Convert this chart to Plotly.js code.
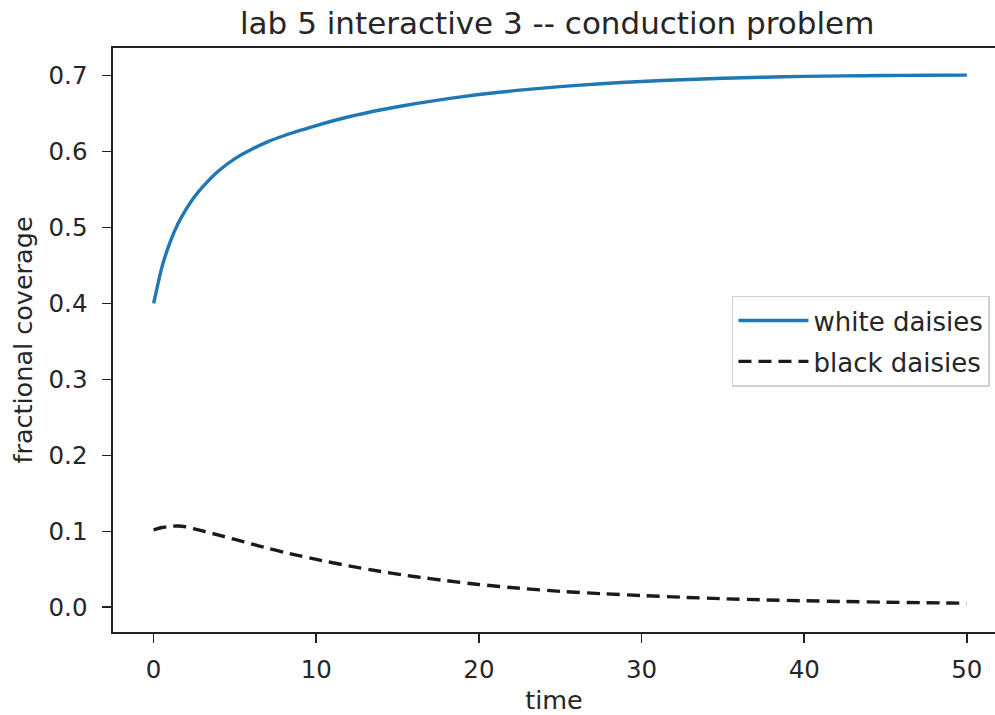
<!DOCTYPE html>
<html>
<head>
<meta charset="utf-8">
<script src="https://cdn.plot.ly/plotly-3.0.1.min.js"></script>
<style>html,body{margin:0;padding:0;background:#fff;}#chart{width:995px;height:715px;}</style>
</head>
<body>
<div id="chart"></div>
<script>
const chartTitle = "lab 5 interactive 3 -- conduction problem";
const xLabel = "time";
const yLabel = "fractional coverage";
const seriesNames = ["white daisies", "black daisies"];

const time = [0, 0.5, 1, 1.5, 2, 2.5, 3, 4, 5, 6, 7, 8, 9, 10, 12, 14, 16, 18, 20, 22.5, 25, 27.5, 30, 32.5, 35, 37.5, 40, 42.5, 45, 47.5, 50];
const whiteDaisies = [0.400, 0.447, 0.480, 0.505, 0.524, 0.540, 0.553, 0.5745, 0.5905, 0.6025, 0.6125, 0.6205, 0.6275, 0.634, 0.6455, 0.6548, 0.6625, 0.669, 0.6748, 0.6805, 0.6852, 0.689, 0.692, 0.6943, 0.6962, 0.6976, 0.6986, 0.6993, 0.6998, 0.7001, 0.7003];
const blackDaisies = [0.102, 0.105, 0.1065, 0.107, 0.1058, 0.1032, 0.1005, 0.095, 0.0893, 0.0835, 0.0778, 0.0725, 0.0676, 0.063, 0.0545, 0.047, 0.0405, 0.035, 0.030, 0.025, 0.021, 0.018, 0.0155, 0.0132, 0.0113, 0.0098, 0.0086, 0.0076, 0.0067, 0.006, 0.0053];

const xTicks = [0, 10, 20, 30, 40, 50];
const yTicks = [0.0, 0.1, 0.2, 0.3, 0.4, 0.5, 0.6, 0.7];
const yTickText = ["0.0", "0.1", "0.2", "0.3", "0.4", "0.5", "0.6", "0.7"];

const font = "DejaVu Sans, sans-serif";
const textColor = "#262626";

const traces = [
  {x: time, y: whiteDaisies, name: seriesNames[0], legendgroup: "w", type: "scatter", mode: "lines",
   line: {color: "#1f77b4", width: 3.4, shape: "spline", smoothing: 0.5}},
  {x: time, y: blackDaisies, name: seriesNames[1], legendgroup: "b", type: "scatter", mode: "lines",
   line: {color: "#1a1a1a", width: 3.4, dash: "13px,7px", shape: "spline", smoothing: 0.5}}
];

const axisCommon = {
  showgrid: false, zeroline: false, showline: true, linecolor: "#222", linewidth: 1.6,
  ticks: "outside", ticklen: 9, tickwidth: 1.6, tickcolor: "#222",
  tickfont: {family: font, size: 24.5, color: textColor}
};

const layout = {
  width: 995, height: 715,
  margin: {l: 113, r: 0, t: 48, b: 83, pad: 0},
  paper_bgcolor: "#fff", plot_bgcolor: "#fff",
  title: {text: chartTitle, font: {family: font, size: 31, color: textColor},
          xref: "container", x: 0.56, xanchor: "center", yref: "container", y: 0.968, yanchor: "middle"},
  xaxis: Object.assign({}, axisCommon, {
    range: [-2.5, 51.73], tickvals: xTicks, ticklabelstandoff: 6, mirror: true,
    title: {text: xLabel, font: {family: font, size: 25.5, color: textColor}, standoff: 10}
  }),
  yaxis: Object.assign({}, axisCommon, {
    range: [-0.0325, 0.736], tickvals: yTicks, ticktext: yTickText, ticklabelstandoff: 10,
    title: {text: yLabel, font: {family: font, size: 25.5, color: textColor}, standoff: 8}
  }),
  showlegend: true,
  legend: {x: 0.9943, xanchor: "right", y: 0.498, yanchor: "middle", itemwidth: 70,
           bgcolor: "rgba(255,255,255,0.8)", bordercolor: "#d0d0d0", borderwidth: 1.5,
           font: {family: font, size: 26, color: textColor}, tracegroupgap: 4}
};

Plotly.newPlot("chart", traces, layout, {displayModeBar: false, staticPlot: true});
</script>
</body>
</html>
